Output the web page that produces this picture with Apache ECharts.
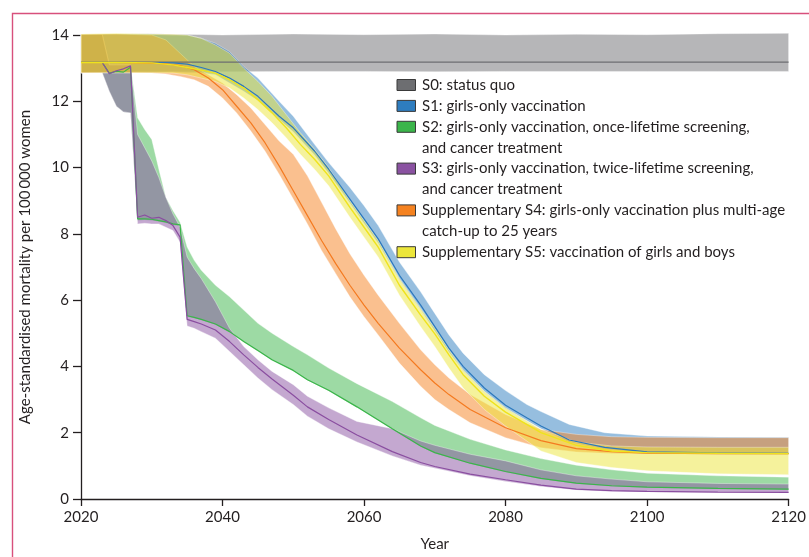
<!DOCTYPE html>
<html><head><meta charset="utf-8">
<script src="https://cdn.jsdelivr.net/npm/echarts/dist/echarts.min.js"></script>
<style>html,body{margin:0;padding:0;background:#fff}#c{width:809px;height:557px}</style>
</head><body><div id="c"></div>
<script>
// ---------- DATA ----------
const xTicks = [2020, 2040, 2060, 2080, 2100, 2120];
const yTicks = [0, 2, 4, 6, 8, 10, 12, 14];

const legendNames = [
  ['S0: status quo'],
  ['S1: girls-only vaccination'],
  ['S2: girls-only vaccination, once-lifetime screening,', 'and cancer treatment'],
  ['S3: girls-only vaccination, twice-lifetime screening,', 'and cancer treatment'],
  ['Supplementary S4: girls-only vaccination plus multi-age', 'catch-up to 25 years'],
  ['Supplementary S5: vaccination of girls and boys']
];

// S0: status quo
const s0Years = [2020, 2030, 2040, 2050, 2060, 2070, 2080, 2090, 2100, 2110, 2120];
const s0Mid   = [13.18, 13.18, 13.18, 13.18, 13.18, 13.18, 13.18, 13.18, 13.18, 13.18, 13.18];
const s0Upper = [14.02, 14.04, 14.0, 14.03, 14.01, 14.03, 14.0, 14.02, 14.01, 14.04, 14.05];
const s0Lower = [12.88, 12.9, 12.89, 12.9, 12.9, 12.89, 12.9, 12.9, 12.9, 12.9, 12.9];

// S1: girls-only vaccination
const s1Years = [2020, 2025, 2030, 2033, 2035, 2037, 2039, 2041, 2043, 2045, 2048, 2050, 2053, 2055, 2058, 2060, 2062, 2065, 2068, 2070, 2072, 2074, 2077, 2080, 2083, 2085, 2089, 2094, 2100, 2110, 2120];
const s1Mid   = [13.17, 13.17, 13.17, 13.16, 13.12, 13.02, 12.9, 12.7, 12.45, 12.15, 11.55, 11.2, 10.5, 9.95, 9.05, 8.45, 7.85, 6.75, 5.85, 5.2, 4.55, 4.0, 3.35, 2.83, 2.45, 2.2, 1.78, 1.56, 1.42, 1.39, 1.38];
const s1Upper = [14.02, 14.03, 14.02, 14.0, 14.0, 13.9, 13.75, 13.5, 13.05, 12.7, 12.0, 11.55, 10.7, 10.15, 9.4, 8.85, 8.25, 7.15, 6.25, 5.6, 4.95, 4.4, 3.75, 3.27, 2.85, 2.64, 2.25, 2.0, 1.9, 1.87, 1.86];
const s1Lower = [12.86, 12.88, 12.87, 12.88, 12.86, 12.86, 12.8, 12.55, 12.3, 12.02, 11.45, 11.08, 10.38, 9.83, 8.93, 8.32, 7.72, 6.62, 5.72, 5.07, 4.43, 3.88, 3.24, 2.73, 2.36, 2.12, 1.71, 1.5, 1.38, 1.36, 1.35];

// S2 and S3 share the same years
const s23Years = [2020, 2023, 2024, 2025, 2026, 2027, 2028, 2029, 2030, 2031, 2032, 2033, 2034, 2035, 2036, 2037, 2039, 2041, 2043, 2045, 2047, 2050, 2052, 2055, 2059, 2064, 2068, 2070, 2075, 2080, 2085, 2090, 2095, 2100, 2110, 2120];
// S2: once-lifetime screening
const s2Mid   = [13.17, 13.17, 12.85, 12.9, 12.88, 13.03, 8.45, 8.45, 8.44, 8.4, 8.36, 8.3, 8.27, 5.53, 5.48, 5.42, 5.28, 5.05, 4.75, 4.48, 4.2, 3.88, 3.6, 3.28, 2.78, 2.12, 1.6, 1.4, 1.08, 0.83, 0.62, 0.48, 0.4, 0.36, 0.32, 0.3];
const s2Upper = [14.02, 14.02, 13.1, 13.1, 13.1, 13.1, 11.5, 11.15, 10.85, 9.95, 9.1, 8.7, 8.35, 7.6, 7.2, 6.9, 6.45, 6.1, 5.7, 5.3, 5.0, 4.6, 4.35, 3.95, 3.48, 2.94, 2.45, 2.22, 1.8, 1.48, 1.22, 1.02, 0.88, 0.78, 0.7, 0.66];
const s2Lower = [12.86, 12.86, 12.3, 11.85, 11.68, 11.65, 8.4, 8.42, 8.4, 8.37, 8.33, 8.27, 8.24, 5.5, 5.45, 5.4, 5.26, 5.03, 4.73, 4.46, 4.18, 3.86, 3.58, 3.26, 2.76, 2.1, 1.58, 1.38, 1.06, 0.81, 0.6, 0.46, 0.38, 0.34, 0.3, 0.28];
// S3: twice-lifetime screening
const s3Mid   = [13.17, 13.17, 12.83, 12.92, 12.98, 13.07, 8.5, 8.57, 8.47, 8.5, 8.4, 8.25, 7.9, 5.42, 5.35, 5.28, 5.1, 4.75, 4.35, 3.97, 3.62, 3.13, 2.78, 2.4, 1.93, 1.43, 1.1, 0.98, 0.75, 0.58, 0.42, 0.3, 0.25, 0.23, 0.21, 0.2];
const s3Upper = [14.02, 14.02, 13.1, 13.1, 13.1, 13.1, 11.0, 10.6, 10.2, 9.7, 9.1, 8.6, 8.2, 7.3, 6.95, 6.65, 5.95, 5.15, 4.6, 4.2, 3.85, 3.45, 3.1, 2.75, 2.34, 2.12, 1.75, 1.62, 1.35, 1.15, 0.88, 0.7, 0.6, 0.52, 0.47, 0.45];
const s3Lower = [12.86, 12.86, 12.3, 11.85, 11.68, 11.65, 8.3, 8.32, 8.3, 8.3, 8.2, 8.1, 7.75, 5.22, 5.15, 5.05, 4.85, 4.45, 4.05, 3.65, 3.3, 2.85, 2.5, 2.12, 1.72, 1.3, 1.02, 0.93, 0.7, 0.53, 0.38, 0.27, 0.23, 0.21, 0.2, 0.19];

// S4: multi-age catch-up
const s4Years = [2020, 2025, 2030, 2032, 2034, 2036, 2038, 2040, 2042, 2044, 2046, 2048, 2050, 2052, 2054, 2056, 2058, 2060, 2062, 2065, 2068, 2070, 2072, 2075, 2080, 2085, 2090, 2095, 2100, 2110, 2120];
const s4Mid   = [13.17, 13.17, 13.15, 13.13, 13.08, 12.95, 12.7, 12.35, 11.85, 11.35, 10.75, 10.05, 9.3, 8.55, 7.8, 7.1, 6.45, 5.85, 5.3, 4.55, 3.9, 3.5, 3.15, 2.7, 2.15, 1.76, 1.52, 1.43, 1.38, 1.37, 1.37];
const s4Upper = [14.02, 14.03, 14.0, 13.85, 13.45, 13.05, 12.8, 12.55, 12.2, 11.8, 11.3, 10.8, 10.4, 9.75, 8.95, 8.15, 7.4, 6.75, 6.15, 5.3, 4.5, 4.05, 3.65, 3.15, 2.55, 2.1, 1.95, 1.88, 1.86, 1.85, 1.85];
const s4Lower = [12.85, 12.86, 12.85, 12.82, 12.75, 12.65, 12.45, 12.1, 11.65, 11.1, 10.5, 9.8, 9.05, 8.3, 7.5, 6.8, 6.1, 5.5, 4.95, 4.1, 3.4, 3.0, 2.7, 2.3, 1.85, 1.55, 1.42, 1.37, 1.36, 1.35, 1.35];

// S5: vaccination of girls and boys
const s5Years = [2020, 2025, 2030, 2033, 2035, 2037, 2039, 2041, 2043, 2045, 2047, 2049, 2051, 2053, 2055, 2058, 2060, 2062, 2065, 2068, 2070, 2072, 2074, 2077, 2080, 2085, 2090, 2095, 2100, 2110, 2120];
const s5Mid   = [13.17, 13.17, 13.16, 13.1, 13.02, 12.94, 12.85, 12.65, 12.4, 12.05, 11.65, 11.2, 10.7, 10.25, 9.75, 8.8, 8.2, 7.6, 6.45, 5.55, 4.98, 4.35, 3.75, 3.1, 2.62, 2.0, 1.62, 1.45, 1.4, 1.38, 1.37];
const s5Upper = [14.03, 14.05, 14.03, 14.02, 14.0, 13.9, 13.7, 13.45, 13.0, 12.6, 12.15, 11.6, 11.05, 10.55, 10.0, 9.0, 8.4, 7.8, 6.65, 5.75, 5.15, 4.5, 3.9, 3.25, 2.75, 2.1, 1.72, 1.6, 1.57, 1.56, 1.56];
const s5Lower = [12.86, 12.86, 12.86, 12.85, 12.8, 12.7, 12.6, 12.4, 12.1, 11.75, 11.35, 10.9, 10.4, 9.95, 9.45, 8.5, 7.9, 7.3, 6.15, 5.2, 4.6, 3.95, 3.35, 2.7, 2.2, 1.45, 1.1, 0.95, 0.85, 0.76, 0.73];

// ---------- STYLE ----------
const FONT = 'Lato';
const INK = '#231f20';
const cols  = ['#6d6e71', '#2e7dbf', '#3bb54a', '#8a52a1', '#f58220', '#ece63a'];
const lineCols = ['#6d6e71', '#2b78bd', '#3bb54a', '#8a4ea0', '#f47a20', '#efe31c'];
function rgba(hex, a) {
  const n = parseInt(hex.slice(1), 16);
  return 'rgba(' + (n >> 16) + ',' + ((n >> 8) & 255) + ',' + (n & 255) + ',' + a + ')';
}

const bands = [
  [s0Years, s0Lower, s0Upper],
  [s1Years, s1Lower, s1Upper],
  [s23Years, s2Lower, s2Upper],
  [s23Years, s3Lower, s3Upper],
  [s4Years, s4Lower, s4Upper],
  [s5Years, s5Lower, s5Upper]
];
const mids = [
  [s0Years, s0Mid], [s1Years, s1Mid], [s23Years, s2Mid],
  [s23Years, s3Mid], [s4Years, s4Mid], [s5Years, s5Mid]
];

const series = [];
bands.forEach(function (b, k) {
  const years = b[0], lower = b[1], upper = b[2];
  series.push({
    type: 'custom', name: 'band' + k, silent: true, z: 2 + k,
    coordinateSystem: 'cartesian2d',
    data: [[years[0], lower[0]]],
    renderItem: function (params, api) {
      const pts = [];
      for (let i = 0; i < years.length; i++) pts.push(api.coord([years[i], upper[i]]));
      for (let i = years.length - 1; i >= 0; i--) pts.push(api.coord([years[i], lower[i]]));
      return {
        type: 'polygon', shape: { points: pts },
        style: { fill: rgba(cols[k], 0.5), stroke: 'rgba(255,255,255,0.45)', lineWidth: 0.8 }
      };
    }
  });
});
mids.forEach(function (m, k) {
  series.push({
    type: 'line', name: 'mid' + k, silent: true, z: 20 + k,
    data: m[0].map(function (y, i) { return [y, m[1][i]]; }),
    symbol: 'none', showSymbol: false,
    lineStyle: { color: lineCols[k], width: k === 5 ? 1.4 : 1.2 }
  });
});

// legend drawn as graphics
const graphics = [{
  type: 'rect', left: 10, top: 11, z: 100, silent: true,
  shape: { x: 0, y: 0, width: 900, height: 700 },
  style: { fill: 'none', stroke: '#d8507c', lineWidth: 1.4 }
}];
let row = 0;
const legX = 397, legY0 = 85, rowH = 20.9;
legendNames.forEach(function (lines, k) {
  const cy = legY0 + row * rowH;
  graphics.push({
    type: 'rect', z: 100, silent: true,
    shape: { x: legX, y: cy - 5.5, width: 18.5, height: 11 },
    style: { fill: cols[k], stroke: '#3a3a3a', lineWidth: 1 }
  });
  lines.forEach(function (t, j) {
    graphics.push({
      type: 'text', z: 100, silent: true, x: legX + 25, y: cy + j * rowH,
      style: { text: t, fill: INK, font: '15px ' + FONT, textVerticalAlign: 'middle', verticalAlign: 'middle' }
    });
  });
  row += lines.length;
});

const chart = echarts.init(document.getElementById('c'), null, { renderer: 'canvas' });
chart.setOption({
  animation: false,
  backgroundColor: '#ffffff',
  grid: { left: 81, right: 17, top: 35, bottom: 56, containLabel: false },
  xAxis: {
    type: 'value', min: xTicks[0], max: xTicks[xTicks.length - 1], interval: 20,
    name: 'Year', nameLocation: 'middle', nameGap: 38,
    nameTextStyle: { color: INK, fontFamily: FONT, fontSize: 15 },
    axisLine: { lineStyle: { color: INK, width: 1.3 } },
    axisTick: { show: true, length: 7, lineStyle: { color: INK, width: 1.3 } },
    axisLabel: { color: INK, fontFamily: FONT, fontSize: 15, margin: 11, formatter: function (v) { return String(v); } },
    splitLine: { show: false }
  },
  yAxis: {
    type: 'value', min: yTicks[0], max: yTicks[yTicks.length - 1], interval: 2,
    name: 'Age-standardised mortality per 100\u2009000 women', nameLocation: 'middle', nameGap: 48, nameRotate: 90,
    nameTextStyle: { color: INK, fontFamily: FONT, fontSize: 15 },
    axisLine: { show: true, lineStyle: { color: INK, width: 1.3 } },
    axisTick: { show: true, length: 8, lineStyle: { color: INK, width: 1.3 } },
    axisLabel: { color: INK, fontFamily: FONT, fontSize: 15, margin: 12 },
    splitLine: { show: false }
  },
  graphic: graphics,
  series: series
});
</script></body></html>
